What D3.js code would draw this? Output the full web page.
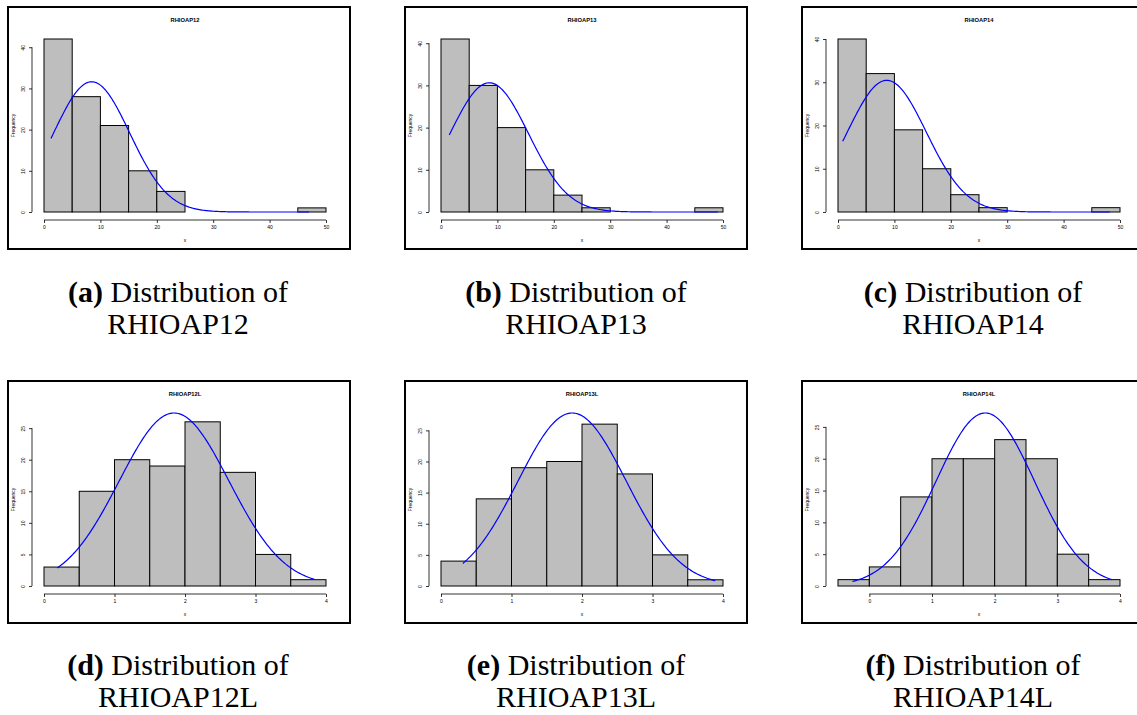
<!DOCTYPE html>
<html lang="en">
<head>
    <meta charset="UTF-8">
    <title>Distributions of RHIOAP</title>
    <script src="https://d3js.org/d3.v7.min.js"></script>
    <style>
        body { margin: 0; background: #fff; }
        .tick text { font-family: "Liberation Sans", Arial, sans-serif; font-size: 5px; fill: #000; }
        .tick line { stroke: #000; stroke-width: 0.8; }
        .caption { font-family: "Liberation Serif", "Times New Roman", serif; font-size: 30px; fill: #000; }
    </style>
</head>
<body>
    <svg width="1137" height="715"></svg>
    <script>
        // Data
        const panelTitles = ["RHIOAP12", "RHIOAP13", "RHIOAP14", "RHIOAP12L", "RHIOAP13L", "RHIOAP14L"];
        const captionTags = ["(a)", "(b)", "(c)", "(d)", "(e)", "(f)"];

        const histBreaks = [
            [0, 5, 10, 15, 20, 25, 30, 35, 40, 45, 50],
            [0, 5, 10, 15, 20, 25, 30, 35, 40, 45, 50],
            [0, 5, 10, 15, 20, 25, 30, 35, 40, 45, 50],
            [0, 0.5, 1, 1.5, 2, 2.5, 3, 3.5, 4],
            [0, 0.5, 1, 1.5, 2, 2.5, 3, 3.5, 4],
            [-0.5, 0, 0.5, 1, 1.5, 2, 2.5, 3, 3.5, 4]
        ];
        const histCounts = [
            [42, 28, 21, 10, 5, 0, 0, 0, 0, 1],
            [41, 30, 20, 10, 4, 1, 0, 0, 0, 1],
            [40, 32, 19, 10, 4, 1, 0, 0, 0, 1],
            [3, 15, 20, 19, 26, 18, 5, 1],
            [4, 14, 19, 20, 26, 18, 5, 1],
            [1, 3, 14, 20, 20, 23, 20, 5, 1]
        ];

        // fitted normal curve (mean, sd) and the x range it is drawn over
        const fitMean = [8.45, 8.55, 8.65, 1.845, 1.86, 1.85];
        const fitSd = [6.75, 6.97, 7.01, 0.779, 0.768, 0.785];
        const curveFrom = [1.24, 1.47, 0.83, 0.19, 0.31, -0.27];
        const curveTo = [47, 49.1, 48.2, 3.84, 3.89, 3.87];

        const xTickVals = [
            [0, 10, 20, 30, 40, 50], [0, 10, 20, 30, 40, 50], [0, 10, 20, 30, 40, 50],
            [0, 1, 2, 3, 4], [0, 1, 2, 3, 4], [0, 1, 2, 3, 4]
        ];
        const yTickVals = [
            [0, 10, 20, 30, 40], [0, 10, 20, 30, 40], [0, 10, 20, 30, 40],
            [0, 5, 10, 15, 20, 25], [0, 5, 10, 15, 20, 25], [0, 5, 10, 15, 20, 25]
        ];

        const svg = d3.select("svg");

        // layout
        const colX = [8, 405, 802];
        const rowY = [7, 381];
        const panelW = 342, panelH = 242;
        const captionX = [178, 576, 973];
        const captionY = [[302, 334], [675, 707]];

        function dnorm(x, m, s) {
            return Math.exp(-0.5 * ((x - m) / s) ** 2) / (s * Math.sqrt(2 * Math.PI));
        }

        panelTitles.forEach((title, i) => {
            const col = i % 3, row = Math.floor(i / 3);
            const g = svg.append("g")
                .attr("transform", `translate(${colX[col]},${rowY[row]})`);

            const breaks = histBreaks[i];
            const counts = histCounts[i];
            const n = d3.sum(counts);
            const binW = breaks[1] - breaks[0];

            // curve points
            const curveX = d3.range(0, 201).map(k => curveFrom[i] + (curveTo[i] - curveFrom[i]) * k / 200);
            const curvePts = curveX.map(x => [x, n * binW * dnorm(x, fitMean[i], fitSd[i])]);
            const yMax = Math.max(d3.max(counts), d3.max(curvePts, d => d[1]));

            const x = d3.scaleLinear().domain([breaks[0], breaks[breaks.length - 1]]).range([36, 318]);
            const y = d3.scaleLinear().domain([0, yMax]).range([205, 32]);

            // frame
            g.append("rect")
                .attr("x", 0).attr("y", 0)
                .attr("width", panelW).attr("height", panelH)
                .attr("fill", "none")
                .attr("stroke", "#000")
                .attr("stroke-width", 2);

            // bars
            g.selectAll("rect.bar")
                .data(counts)
                .join("rect")
                .attr("class", "bar")
                .attr("x", (d, k) => x(breaks[k]))
                .attr("y", d => y(d))
                .attr("width", (d, k) => x(breaks[k + 1]) - x(breaks[k]))
                .attr("height", d => y(0) - y(d))
                .attr("fill", "#bebebe")
                .attr("stroke", "#000")
                .attr("stroke-width", 1);

            // normal curve
            g.append("path")
                .datum(curvePts)
                .attr("fill", "none")
                .attr("stroke", "#0000ff")
                .attr("stroke-width", 1.2)
                .attr("d", d3.line().x(d => x(d[0])).y(d => y(d[1])));

            // x axis
            const xt = xTickVals[i];
            const xAxisG = g.append("g")
                .attr("transform", "translate(0,213)")
                .call(d3.axisBottom(x).tickValues(xt).tickFormat(d3.format("d")).tickSize(3).tickPadding(2.5));
            xAxisG.select(".domain").remove();
            xAxisG.append("line")
                .attr("x1", x(xt[0])).attr("x2", x(xt[xt.length - 1]))
                .attr("stroke", "#000").attr("stroke-width", 0.8);

            // y axis
            const yt = yTickVals[i];
            const yAxisG = g.append("g")
                .attr("transform", "translate(24,0)")
                .call(d3.axisLeft(y).tickValues(yt).tickFormat(d3.format("d")).tickSize(3));
            yAxisG.select(".domain").remove();
            yAxisG.append("line")
                .attr("y1", y(yt[0])).attr("y2", y(yt[yt.length - 1]))
                .attr("stroke", "#000").attr("stroke-width", 0.8);
            yAxisG.selectAll(".tick text")
                .attr("x", 0)
                .attr("dy", "0.35em")
                .attr("text-anchor", "middle")
                .attr("transform", "translate(-8.5,0) rotate(-90)");

            // labels
            g.append("text")
                .attr("x", 177).attr("y", 13)
                .attr("dy", "0.35em")
                .attr("text-anchor", "middle")
                .attr("font-family", "Liberation Sans, Arial, sans-serif")
                .attr("font-size", 5.8)
                .attr("font-weight", "bold")
                .text(title);

            g.append("text")
                .attr("x", 177).attr("y", 233)
                .attr("dy", "0.35em")
                .attr("text-anchor", "middle")
                .attr("font-family", "Liberation Sans, Arial, sans-serif")
                .attr("font-size", 5)
                .attr("fill", "#000")
                .text("x");

            g.append("text")
                .attr("transform", `translate(5,${(y(0) + y(yMax)) / 2}) rotate(-90)`)
                .attr("dy", "0.35em")
                .attr("text-anchor", "middle")
                .attr("font-family", "Liberation Sans, Arial, sans-serif")
                .attr("font-size", 5)
                .text("Frequency");

            // caption
            const cap = svg.append("text")
                .attr("class", "caption")
                .attr("text-anchor", "middle")
                .attr("x", captionX[col])
                .attr("y", captionY[row][0]);
            cap.append("tspan").attr("font-weight", "bold").text(captionTags[i]);
            cap.append("tspan").text(" Distribution of");
            svg.append("text")
                .attr("class", "caption")
                .attr("text-anchor", "middle")
                .attr("x", captionX[col])
                .attr("y", captionY[row][1])
                .text(title);
        });
    </script>
</body>
</html>
